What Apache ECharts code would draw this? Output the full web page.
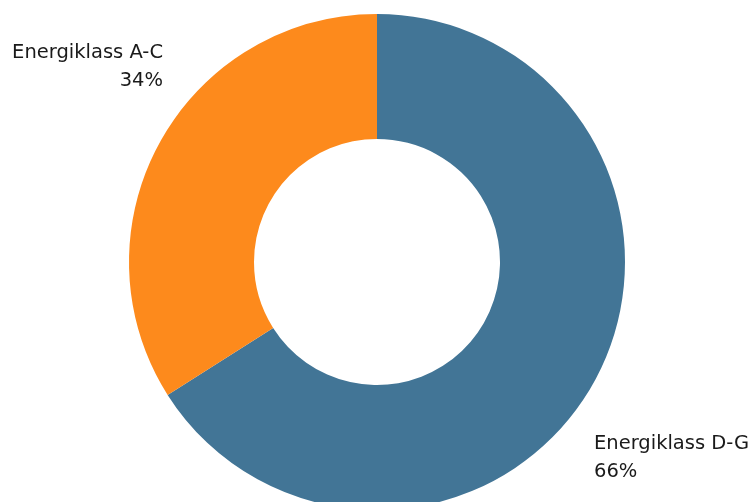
<!DOCTYPE html>
<html><head><meta charset="utf-8">
<script src="https://cdn.jsdelivr.net/npm/echarts@6/dist/echarts.min.js"></script>
<style>html,body{margin:0;padding:0;background:#fff}#c{width:755px;height:502px}</style>
</head><body><div id="c"></div>
<script>
const categories = ['Energiklass D-G', 'Energiklass A-C'];
const values = [66, 34];
const colors = ['#427596', '#FD8A1C'];

const chart = echarts.init(document.getElementById('c'), null, {renderer: 'canvas'});
const labelPos = [
  {x: 594, y: 458, align: 'left'},
  {x: 163, y: 67, align: 'right'}
];
chart.setOption({
  animation: false,
  series: [{
    type: 'pie',
    center: [377, 262],
    radius: [123, 248],
    startAngle: 90,
    clockwise: true,
    data: categories.map((c, i) => ({name: c, value: values[i], itemStyle: {color: colors[i]},
      label: {align: labelPos[i].align}})),
    label: {
      show: true,
      position: 'outside',
      alignTo: 'none',
      overflow: 'none',
      formatter: p => p.name + '\n' + p.value + '%',
      fontFamily: 'DejaVu Sans',
      fontSize: 19.5,
      lineHeight: 28,
      color: '#1a1a1a'
    },
    labelLine: {show: false},
    labelLayout: p => ({x: labelPos[p.dataIndex].x, y: labelPos[p.dataIndex].y, align: labelPos[p.dataIndex].align, verticalAlign: 'middle'}),
    emphasis: {disabled: true}
  }]
});
</script></body></html>
